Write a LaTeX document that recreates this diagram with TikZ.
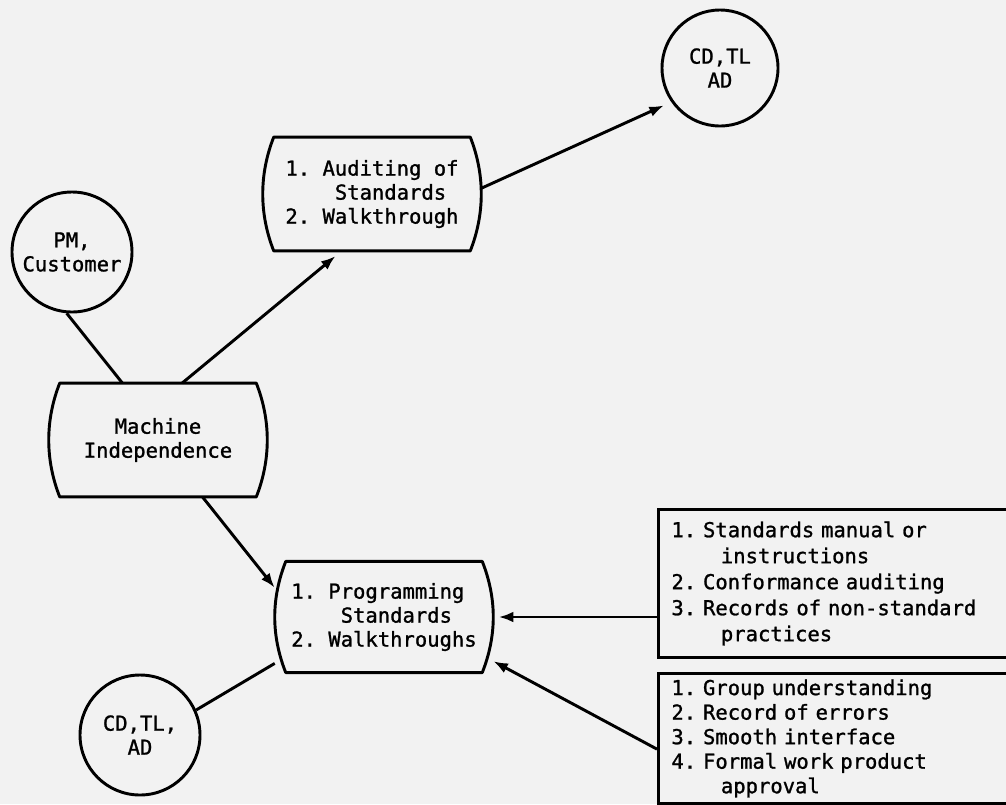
\documentclass[tikz,border=0pt]{standalone}
\usepackage{fontspec}
\setmainfont{DejaVu Sans Mono}[FakeBold=1.2, WordSpace={1,0,0}, PunctuationSpace=WordSpace]
\usetikzlibrary{arrows.meta}
\newcommand\myind{\hspace*{2.408em}}
\newcommand\bulgedraw[1]{%
  \draw[line width=2.2pt, line join=round]
    ([xshift=8.25pt]#1.north west) -- ([xshift=-8.25pt]#1.north east)
    .. controls ([xshift=2.75pt,yshift=-28pt]#1.north east) and ([xshift=2.75pt,yshift=28pt]#1.south east) ..
    ([xshift=-8.25pt]#1.south east) -- ([xshift=8.25pt]#1.south west)
    .. controls ([xshift=-2.75pt,yshift=28pt]#1.south west) and ([xshift=-2.75pt,yshift=-28pt]#1.north west) ..
    cycle;}
\begin{document}
\frenchspacing
\begin{tikzpicture}[x=0.75pt,y=-0.75pt,
  every node/.style={font=\fontsize{15.4}{18}\selectfont, text=black},
  ln/.style={line width=2.2pt},
  circ/.style={circle, draw, line width=2.2pt, inner sep=0pt, align=center},
  bulge/.style={rectangle, minimum width=163.5pt, minimum height=85pt, inner sep=0pt, align=left},
  listbox/.style={rectangle, draw, line width=2.2pt, anchor=north west, align=left,
    text width=285pt, inner xsep=9.75pt, inner ysep=0pt},
  arr/.style={line width=2.2pt, -{Latex[length=11pt,width=8pt]}},
]
\fill[black!5] (0,0) rectangle (1006,804);
\useasboundingbox (0,0) rectangle (1006,804);
\clip (0,0) rectangle (1006,804);

\node[circ, minimum size=87pt] (cdtop) at (720,68) {CD,TL\\AD};
\node[circ, minimum size=90pt] (pm) at (72,252) {PM,\\Customer};
\node[circ, minimum size=90pt] (cdbot) at (140,735) {CD,TL,\\AD};

\node[bulge] (aud) at (372,194) {1. Auditing of\\\myind Standards\\2. Walkthrough};
\node[bulge, align=center] (mach) at (158,440) {Machine\\Independence};
\node[bulge, minimum height=83pt] (prog) at (384,617) {1. Programming\\\myind Standards\\2. Walkthroughs};
\bulgedraw{aud}
\bulgedraw{mach}
\bulgedraw{prog}

\node[listbox, minimum height=111pt, font=\fontsize{15.4}{19.5}\selectfont] (box1) at (657,508)
  {1. Standards manual or\\\myind instructions\\2. Conformance auditing\\3. Records of non-standard\\\myind practices};
\node[listbox, minimum height=97.5pt, font=\fontsize{15.4}{18.4}\selectfont] (box2) at (657,672)
  {1. Group understanding\\2. Record of errors\\3. Smooth interface\\4. Formal work product\\\myind approval};

\draw[ln] (pm.265) -- (mach.122);
\draw[arr, shorten >=6pt] (mach.67) -- (aud.-118);
\draw[arr, shorten >=6pt] (aud.3) -- (cdtop.215);
\draw[arr] (mach.-52) -- (prog.165);
\draw[ln] (cdbot.24) -- (prog.203);
\draw[arr, shorten >=4pt] (box1.west |- prog.east) -- (prog.east);
\draw[arr] ([yshift=-8pt]box2.west) -- (prog.-22);
\end{tikzpicture}
\end{document}
